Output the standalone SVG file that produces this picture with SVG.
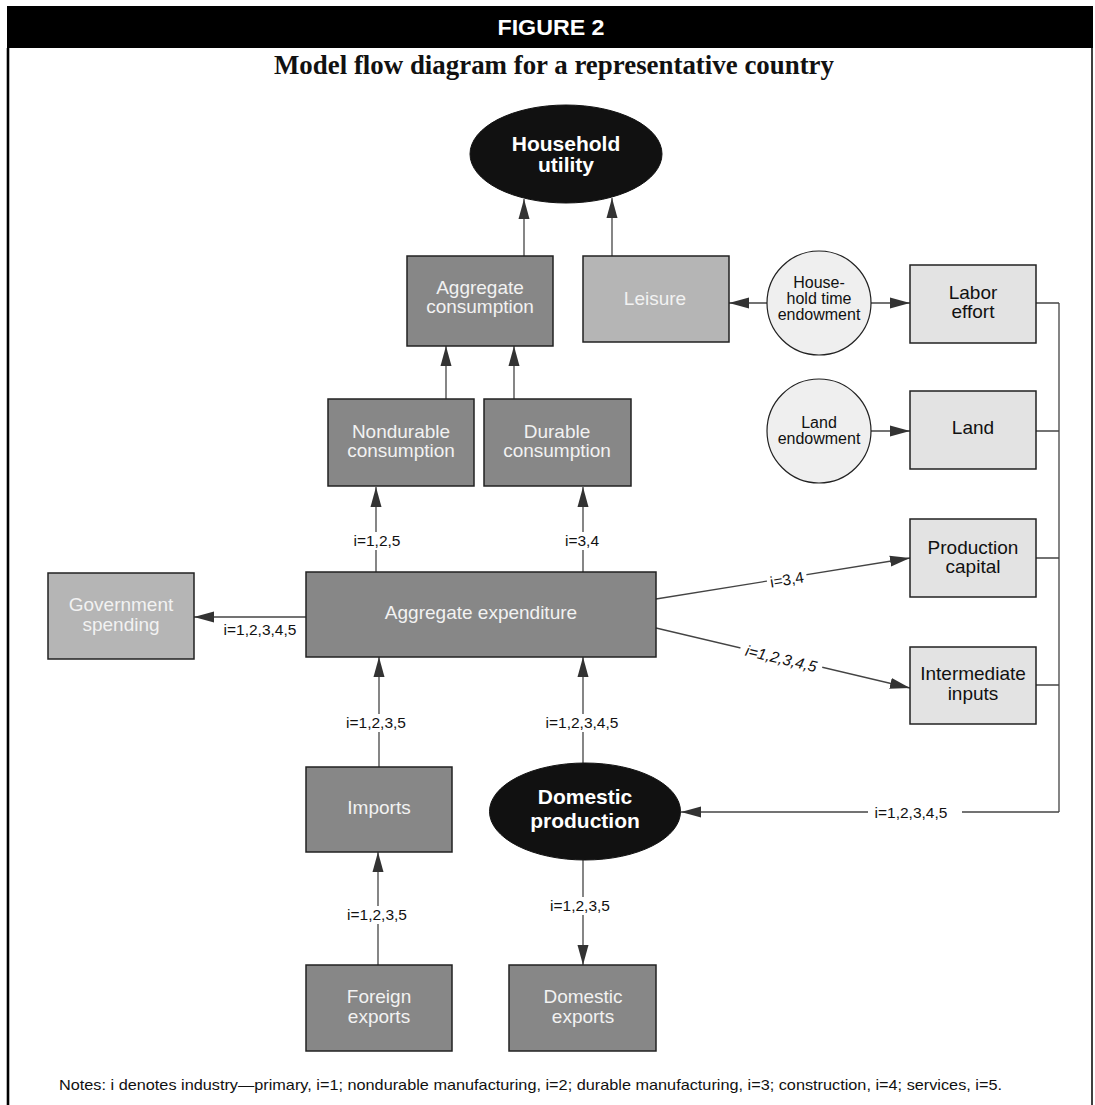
<svg xmlns="http://www.w3.org/2000/svg" width="1095" height="1105" viewBox="0 0 1095 1105">
<style>
.box{stroke:#222;stroke-width:1.5}
.dk{fill:#878787}
.md{fill:#b5b5b5}
.lt{fill:#e3e3e3}
.cir{fill:#efefef;stroke:#222;stroke-width:1.2}
.ell{fill:#111;stroke:#111}
.t{font-family:"Liberation Sans",Arial,sans-serif;font-size:19px;text-anchor:middle}
.tw{fill:#f2f2f2}
.tb{fill:#111}
.tc{font-family:"Liberation Sans",Arial,sans-serif;font-size:16px;text-anchor:middle;fill:#111}
.te{font-family:"Liberation Sans",Arial,sans-serif;font-size:21px;font-weight:bold;text-anchor:middle;fill:#fff}
.lb{font-family:"Liberation Sans",Arial,sans-serif;font-size:15.5px;text-anchor:middle;fill:#111}
.ln{fill:none;stroke:#444;stroke-width:1.3}
.arr{marker-end:url(#ah)}
</style>
<defs>
<marker id="ah" viewBox="0 0 20 12" markerWidth="20" markerHeight="12" refX="20" refY="6" orient="auto" markerUnits="userSpaceOnUse">
<path d="M0,0.5 L20,6 L0,11.5 z" fill="#333"/>
</marker>
</defs>
<rect x="0" y="0" width="1095" height="1105" fill="#fff"/>
<g id="frame">
<rect x="7" y="6" width="1086" height="42" fill="#000"/>
<line x1="8" y1="48" x2="8" y2="1105" stroke="#000" stroke-width="2.6"/>
<line x1="1092" y1="48" x2="1092" y2="1105" stroke="#000" stroke-width="1.5"/>
<text x="551" y="35" font-family="'Liberation Sans',Arial,sans-serif" font-size="22" font-weight="bold" fill="#fff" text-anchor="middle" textLength="107" lengthAdjust="spacingAndGlyphs">FIGURE 2</text>
<text x="554" y="74" font-family="'Liberation Serif','Times New Roman',serif" font-size="27" font-weight="bold" fill="#111" text-anchor="middle" textLength="560" lengthAdjust="spacingAndGlyphs">Model flow diagram for a representative country</text>
</g>
<g id="connectors">
<line class="ln arr" x1="524" y1="256" x2="524" y2="199"/>
<line class="ln arr" x1="612" y1="256" x2="612" y2="198"/>
<line class="ln arr" x1="767" y1="303" x2="729" y2="303"/>
<line class="ln arr" x1="871" y1="303" x2="910" y2="303"/>
<line class="ln arr" x1="871" y1="431" x2="910" y2="431"/>
<line class="ln arr" x1="446" y1="399" x2="446" y2="346"/>
<line class="ln arr" x1="514" y1="399" x2="514" y2="346"/>
<line class="ln arr" x1="376" y1="572" x2="376" y2="487"/>
<line class="ln arr" x1="583" y1="572" x2="583" y2="487"/>
<line class="ln arr" x1="306" y1="617" x2="194" y2="617"/>
<line class="ln arr" x1="656" y1="599" x2="910" y2="558"/>
<line class="ln arr" x1="656" y1="628" x2="910" y2="688"/>
<line class="ln arr" x1="379" y1="767" x2="379" y2="657"/>
<line class="ln arr" x1="583" y1="763" x2="583" y2="657"/>
<line class="ln arr" x1="378" y1="965" x2="378" y2="852"/>
<line class="ln arr" x1="583" y1="860" x2="583" y2="965"/>
<path class="ln" d="M1036,303 H1059 M1036,431 H1059 M1036,558 H1059 M1036,685 H1059 M1059,303 V812"/>
<line class="ln arr" x1="1059" y1="812" x2="681" y2="812"/>
<rect x="352" y="532" width="50" height="18" fill="#fff"/>
<text class="lb" x="377" y="546">i=1,2,5</text>
<rect x="564" y="532" width="38" height="18" fill="#fff"/>
<text class="lb" x="582" y="546">i=3,4</text>
<text class="lb" x="260" y="635">i=1,2,3,4,5</text>
<g transform="translate(787,580) rotate(-9.2)">
<rect x="-20" y="-10" width="40" height="18" fill="#fff"/>
<text class="lb" x="0" y="5">i=3,4</text>
</g>
<g transform="translate(781,659) rotate(13.3)">
<rect x="-42" y="-11" width="84" height="20" fill="#fff"/>
<text class="lb" x="0" y="5" font-style="italic">i=1,2,3,4,5</text>
</g>
<rect x="344" y="714" width="66" height="18" fill="#fff"/>
<text class="lb" x="376" y="728">i=1,2,3,5</text>
<rect x="542" y="714" width="82" height="18" fill="#fff"/>
<text class="lb" x="582" y="728">i=1,2,3,4,5</text>
<rect x="345" y="906" width="64" height="18" fill="#fff"/>
<text class="lb" x="377" y="920">i=1,2,3,5</text>
<rect x="548" y="897" width="64" height="18" fill="#fff"/>
<text class="lb" x="580" y="911">i=1,2,3,5</text>
<rect x="868" y="803" width="94" height="18" fill="#fff"/>
<text class="lb" x="911" y="818">i=1,2,3,4,5</text>
</g>
<g id="household-utility">
<ellipse class="ell" cx="566" cy="154" rx="96" ry="49"/>
<text class="te" x="566" y="151">Household</text>
<text class="te" x="566" y="172">utility</text>
</g>
<g id="aggregate-consumption">
<rect class="box dk" x="407" y="256" width="146" height="90"/>
<text class="t tw" x="480" y="294">Aggregate</text>
<text class="t tw" x="480" y="313">consumption</text>
</g>
<g id="leisure">
<rect class="box md" x="583" y="256" width="146" height="86"/>
<text class="t tw" x="655" y="305">Leisure</text>
</g>
<g id="household-time">
<circle class="cir" cx="819" cy="303" r="52"/>
<text class="tc" x="819" y="288">House-</text>
<text class="tc" x="819" y="304">hold time</text>
<text class="tc" x="819" y="320">endowment</text>
</g>
<g id="labor-effort">
<rect class="box lt" x="910" y="265" width="126" height="78"/>
<text class="t tb" x="973" y="299">Labor</text>
<text class="t tb" x="973" y="318">effort</text>
</g>
<g id="land-endowment">
<circle class="cir" cx="819" cy="431" r="52"/>
<text class="tc" x="819" y="428">Land</text>
<text class="tc" x="819" y="444">endowment</text>
</g>
<g id="land">
<rect class="box lt" x="910" y="391" width="126" height="78"/>
<text class="t tb" x="973" y="434">Land</text>
</g>
<g id="nondurable-consumption">
<rect class="box dk" x="328" y="399" width="146" height="87"/>
<text class="t tw" x="401" y="438">Nondurable</text>
<text class="t tw" x="401" y="457">consumption</text>
</g>
<g id="durable-consumption">
<rect class="box dk" x="484" y="399" width="147" height="87"/>
<text class="t tw" x="557" y="438">Durable</text>
<text class="t tw" x="557" y="457">consumption</text>
</g>
<g id="production-capital">
<rect class="box lt" x="910" y="519" width="126" height="78"/>
<text class="t tb" x="973" y="554">Production</text>
<text class="t tb" x="973" y="573">capital</text>
</g>
<g id="government-spending">
<rect class="box md" x="48" y="573" width="146" height="86"/>
<text class="t tw" x="121" y="611">Government</text>
<text class="t tw" x="121" y="631">spending</text>
</g>
<g id="aggregate-expenditure">
<rect class="box dk" x="306" y="572" width="350" height="85"/>
<text class="t tw" x="481" y="619">Aggregate expenditure</text>
</g>
<g id="intermediate-inputs">
<rect class="box lt" x="910" y="647" width="126" height="77"/>
<text class="t tb" x="973" y="680">Intermediate</text>
<text class="t tb" x="973" y="700">inputs</text>
</g>
<g id="imports">
<rect class="box dk" x="306" y="767" width="146" height="85"/>
<text class="t tw" x="379" y="814">Imports</text>
</g>
<g id="domestic-production">
<ellipse class="ell" cx="585" cy="811.5" rx="95.5" ry="48.5"/>
<text class="te" x="585" y="804">Domestic</text>
<text class="te" x="585" y="828">production</text>
</g>
<g id="foreign-exports">
<rect class="box dk" x="306" y="965" width="146" height="86"/>
<text class="t tw" x="379" y="1003">Foreign</text>
<text class="t tw" x="379" y="1023">exports</text>
</g>
<g id="domestic-exports">
<rect class="box dk" x="509" y="965" width="147" height="86"/>
<text class="t tw" x="583" y="1003">Domestic</text>
<text class="t tw" x="583" y="1023">exports</text>
</g>
<g id="notes">
<text x="59" y="1090" font-family="'Liberation Sans',Arial,sans-serif" font-size="15" fill="#111" textLength="943" lengthAdjust="spacingAndGlyphs">Notes: i denotes industry—primary, i=1; nondurable manufacturing, i=2; durable manufacturing, i=3; construction, i=4; services, i=5.</text>
</g>
</svg>
